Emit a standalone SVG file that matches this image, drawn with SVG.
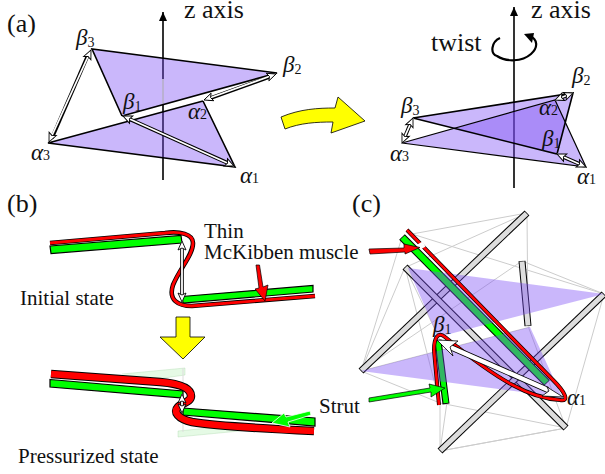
<svg xmlns="http://www.w3.org/2000/svg" width="605" height="474" viewBox="0 0 605 474">
<style>
text{font-family:"Liberation Serif","Times New Roman",serif;fill:#111}
.big{font-size:26px}.lab{font-size:21px}
.g{font-style:italic;font-size:23px}.s{font-size:14px;font-style:normal}
.tri{fill:#7a4cf5;fill-opacity:.4;stroke:none}
.e{fill:none;stroke:#000;stroke-width:1.6}
.axis{stroke:#000;stroke-width:1.6;fill:none}
.da{stroke:#000;stroke-width:3.6;fill:none}
.dw{stroke:#fff;stroke-width:1.8;fill:none;marker-start:url(#h);marker-end:url(#h)}
.yl{fill:#ff0;stroke:#000;stroke-width:.8}
.st{fill:#0f0;stroke:#000;stroke-width:1.2}
.strut{stroke:#000;stroke-width:7;fill:none}
.strut2{stroke:#ddd;stroke-width:5;fill:none}
.thin{stroke:#ccc;stroke-width:1;fill:none}
.mb{fill:none;stroke:#000}
.mr{fill:none;stroke:#f00}
</style>
<defs>
<marker id="h" markerUnits="userSpaceOnUse" markerWidth="12" markerHeight="10" refX="9" refY="4" orient="auto-start-reverse" overflow="visible"><path d="M0 0L9 4L0 8L2 4Z" fill="#fff" stroke="#000" stroke-width=".9"/></marker>
<marker id="ax" markerUnits="userSpaceOnUse" markerWidth="12" markerHeight="12" refX="9" refY="4" orient="auto" overflow="visible"><path d="M0 0L9 4L0 8Z" fill="#000"/></marker>
</defs>

<g id="panel-a">
<text class="big" x="7" y="32">(a)</text>
<path class="axis" d="M163 180V12" marker-end="url(#ax)"/>
<text class="big" x="184" y="18">z axis</text>
<path d="M163 79V105" stroke="#fff" stroke-width="2"/>
<path class="tri" d="M92 49L277 73L122 116Z"/>
<path class="tri" d="M48 143L203 101L235 167Z"/>
<path d="M163 79V105" stroke="#aaa" stroke-width="1"/>
<path class="e" d="M122 116L92 49L277 73L122 116"/>
<path class="e" d="M203 101L48 143L235 167L203 101"/>
<path class="da" d="M88 55L52 138"/><path class="dw" d="M91 50L49 142"/>
<path class="da" d="M127 118L230 164"/><path class="dw" d="M123 116L234 166"/>
<path class="da" d="M208 99L272 76"/><path class="dw" d="M204 100L276 74"/>
<text class="g" x="76" y="45">β<tspan class="s" dy="2">3</tspan></text>
<text class="g" x="283" y="72">β<tspan class="s" dy="2">2</tspan></text>
<text class="g" x="123" y="109">β<tspan class="s" dy="2">1</tspan></text>
<text class="g" x="31" y="160">α<tspan class="s">3</tspan></text>
<text class="g" x="188" y="119">α<tspan class="s">2</tspan></text>
<text class="g" x="240" y="183">α<tspan class="s">1</tspan></text>
</g>

<g id="yellow-arrow">
<path class="yl" d="M281 117C300 109 318 108 335 108L338 97L365 121L331 133L333 122C316 122 300 123 285 129Z"/>
</g>

<g id="panel-a-twisted">
<path d="M514 122V188" class="axis"/>
<path class="axis" d="M514 122V7" marker-end="url(#ax)"/>
<text class="big" x="531" y="18">z axis</text>
<text class="big" x="431" y="51">twist</text>
<path class="e" style="stroke-width:2.2" d="M500 38C491 42 490 54 497 56C506 62 522 62 531 54C539 47 537 39 530 36"/>
<path d="M524 34L534 33L532 43Z" fill="#000"/>
<path class="tri" d="M413 118L573 93L557 154Z"/>
<path class="tri" d="M402 143L555 100L586 167Z"/>
<path class="e" d="M402 143L555 100L586 167Z" style="stroke-width:1.2"/>
<path class="e" d="M413 118L573 93L557 154Z"/>
<path class="da" d="M411 122L404 139"/><path class="dw" d="M413 118L402 143"/>
<path class="da" d="M561 156L582 165"/><path class="dw" d="M557 154L586 167"/>
<path class="da" d="M558 99L570 94"/><path class="dw" d="M555 100L573 93"/>
<text class="g" x="401" y="113">β<tspan class="s" dy="2">3</tspan></text>
<text class="g" x="572" y="83">β<tspan class="s" dy="2">2</tspan></text>
<text class="g" x="542" y="146">β<tspan class="s" dy="2">1</tspan></text>
<text class="g" x="390" y="161">α<tspan class="s">3</tspan></text>
<text class="g" x="539" y="115">α<tspan class="s">2</tspan></text>
<text class="g" x="577" y="184">α<tspan class="s">1</tspan></text>
</g>

<g id="panel-b">
<text class="big" x="7" y="212">(b)</text>
<path class="st" d="M50 246L181 235.500L182 243L51 253.500Z"/>
<path class="st" d="M182 296.500L313 285.500L313 292L183 303Z"/>
<path class="mb" stroke-width="4.6" d="M50 243L165 233C180 231 193 234 193 243C193 255 180 268 173 285C168 300 178 306 192 306L315 296"/>
<path class="mr" stroke-width="2.800" d="M50 243L165 233C180 231 193 234 193 243C193 255 180 268 173 285C168 300 178 306 192 306L315 296"/>
<path class="da" d="M182 246L182 297"/><path class="dw" d="M182 241L182 302"/>
<text class="lab" x="204" y="238">Thin</text>
<text class="lab" x="204" y="259">McKibben muscle</text>
<text class="lab" x="20" y="305">Initial state</text>
<path d="M256 265L259.500 265L263 287L268 285L265 301L255 289L259 288Z" fill="#f00" stroke="#000" stroke-width=".7"/>
<path class="yl" d="M176 317H190V337H205L183 359L160 337H176Z"/>
<path d="M122 374L185 368V375L150 380M178 431L250 424V430L178 437Z" fill="#0c0" fill-opacity=".1" stroke="#9c9" stroke-opacity=".3"/>
<path d="M183 368V432" stroke="#ddd"/>
<path class="st" d="M50 379.500L183 391V398L50 387Z"/>
<path class="st" d="M183 408L315 418V426L183 415Z"/>
<path class="mb" stroke-width="8.500" d="M51 374L160 382C185 384 191 390 191 396C191 402 182 403 178 407C173 412 178 419 192 422C210 425 250 428 314 431"/>
<path class="mr" stroke-width="6.500" d="M51 374L160 382C185 384 191 390 191 396C191 402 182 403 178 407C173 412 178 419 192 422C210 425 250 428 314 431"/>
<path class="da" d="M182 398V409"/><path class="dw" d="M182 394V413"/>
<text class="lab" x="18" y="463">Pressurized state</text>
<text class="lab" x="319" y="413">Strut</text>
<path d="M310 411L311 415L288 422L290 427L272 423L284 413L286 417Z" fill="#0f0" stroke="#fff" stroke-width=".8"/>
</g>

<g id="panel-c">
<text class="big" x="352" y="212">(c)</text>
<g id="cables">
<path class="thin" d="M412 234L527 213L404 268M402 237L361 371L405 267M527 213L528 326M522 261L604 294L412 234M361 371L522 261M361 371L440 403L566 428L604 294M361 371L530 327M528 326L566 428L440 451L447 402M440 451L566 428M440 451L440 404L405 267L440 340M604 294L440 451"/>
</g>
<g id="struts">
<path class="strut" d="M527 213L361 371"/><path class="strut2" d="M526.500 213.500L361.500 370.500"/>
<path class="strut" d="M405 267L566 428"/><path class="strut2" d="M405.500 267.500L565.500 427.500"/>
<path class="strut" d="M604 294L440 451"/><path class="strut2" d="M603.500 294.500L440.500 450.500"/>
<path class="strut" d="M522 261L528 326"/><path class="strut2" d="M522 261.500L528 325.500"/>
</g>
<path d="M402 237L547 383" stroke="#000" stroke-width="8"/><path d="M402.500 237.500L546.500 382.500" stroke="#0f0" stroke-width="6"/>
<path d="M438 340L446 404" stroke="#000" stroke-width="7"/><path d="M438 341L446 403" stroke="#0f0" stroke-width="5"/>
<path class="tri" d="M408 268L604 294L438 337Z"/>
<path class="tri" d="M361 371L530 327L563 399L522 392Z"/>
<path class="mb" stroke-width="4" d="M407 230L553 380C565 392 570 402 560 400C530 398 500 382 445 337C438 331 434 338 434 350L439 405"/>
<path class="mr" stroke-width="2.600" d="M407 230L553 380C565 392 570 402 560 400C530 398 500 382 445 337C438 331 434 338 434 350L439 405"/>
<path d="M424 244L419 247" stroke="#fff" stroke-width="6"/>
<path d="M369 249L404 248V244L420 247.500L405 254V252L370 254Z" fill="#f00" stroke="#000" stroke-width=".7"/>
<path d="M369 402L369 398L430 388L429 384L445 388L431 397L431 392Z" fill="#0f0" stroke="#000" stroke-width=".7"/>
<path d="M450 347L548 390" stroke="#000" stroke-width="6"/><path d="M450 347L548 390" stroke="#fff" stroke-width="4.300"/>
<path d="M437 340L458 341L450 347L453 356Z M563 397L542 396L549 391L547 387Z" fill="#fff" stroke="#000" stroke-width=".8"/>
<text class="g" x="433" y="332">β<tspan class="s" dy="2">1</tspan></text>
<text class="g" x="567" y="405">α<tspan class="s">1</tspan></text>
</g>
</svg>
